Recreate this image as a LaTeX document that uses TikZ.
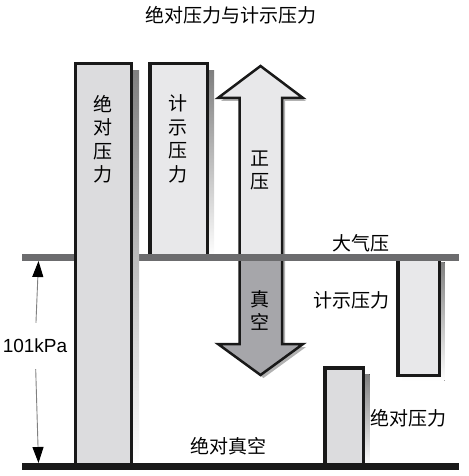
\documentclass[tikz,border=0pt]{standalone}
\usepackage{fontspec}
\setmainfont{Noto Sans CJK SC}
\newfontfamily\helv{Liberation Sans}
\usetikzlibrary{arrows.meta}

\definecolor{barA}{HTML}{DCDCDE}
\definecolor{barB}{HTML}{E8E8EA}
\definecolor{shade}{HTML}{A8A8AA}
\definecolor{atmo}{HTML}{6C6C6E}
\definecolor{vac}{HTML}{A6A6AA}

\begin{document}
\begin{tikzpicture}
  [x=1bp,y=-1bp,
   every node/.style={inner sep=0pt,font=\fontsize{19bp}{23.5bp}\selectfont},
   col/.style={align=center},
   bar/.style={draw=black!90,line width=3.5bp},
   big/.style={draw=black!90,line width=2.5bp,line join=miter},
   dim/.style={draw=black!50,line width=0.9bp,-{Triangle[length=16bp,width=11bp,black]}}]
\useasboundingbox (0,0) rectangle (469,476);

\coordinate (a0) at (22,257.5) ;
\coordinate (a1) at (459,257.5) ;
\coordinate (v0) at (22,466.5) ;
\coordinate (v1) at (459,466.5) ;
\coordinate (atm) at (38.5,261) ;
\coordinate (vac) at (38.5,463) ;

% shadows
\fill[shade] (207.25,71) rectangle (214,257) ;
\fill[shade] (402,262) rectangle (444.5,380.5) ;
\fill[shade] (363,374) rectangle (369.5,466) ;
\fill[black!30] [shift={(3,3)}]
  (260.5,66) -- (303,98) -- (282,98) -- (282,344) -- (303,344) -- (260.5,375)
  -- (218,344) -- (239.5,344) -- (239.5,98) -- (218,98) -- cycle ;

% double arrow
\fill[barB]
  (260.5,66) -- (303,98) -- (282,98) -- (282,344) -- (303,344) -- (260.5,375)
  -- (218,344) -- (239.5,344) -- (239.5,98) -- (218,98) -- cycle ;
\begin{scope}
  \clip (0,257.5) rectangle (469,476) ;
  \fill[vac]
    (260.5,66) -- (303,98) -- (282,98) -- (282,344) -- (303,344) -- (260.5,375)
    -- (218,344) -- (239.5,344) -- (239.5,98) -- (218,98) -- cycle ;
\end{scope}
\draw[big]
  (260.5,66) -- (303,98) -- (282,98) -- (282,344) -- (303,344) -- (260.5,375)
  -- (218,344) -- (239.5,344) -- (239.5,98) -- (218,98) -- cycle ;

% bars
\fill[barB] (149.75,63.75) rectangle (207.25,257) ;
\draw[bar] (149.75,257) -- (149.75,63.75) -- (207.25,63.75) -- (207.25,257) ;
\fill[barB] (397.75,257) rectangle (439.25,375.25) ;
\draw[bar] (397.75,257) |- (439.25,375.25) -- (439.25,257) ;
\filldraw[bar,fill=barA] (324.75,367.75) rectangle (363.25,466) ;

\draw[atmo,line width=6.4bp] (a0) -- (a1) ;

\fill[shade] (131,71) rectangle (139,466) ;
\filldraw[bar,fill=barA] (75.25,63.75) rectangle (131.25,466) ;

\draw[black!90,line width=6.5bp] (v0) -- (v1) ;

% labels
\node (ttl) at (230.5,15.5) {绝对压力与计示压力} ;
\node [col] (abs1) at (103,139) {绝\\对\\压\\力} ;
\node [col] (gau1) at (178,139) {计\\示\\压\\力} ;
\node [col] (pos) at (259.5,170.5) {正\\压} ;
\node [col] (neg) at (259.5,310.5) {真\\空} ;
\node (atmt) at (361,243) {大气压} ;
\node (gau2) at (351.5,300.5) {计示压力} ;
\node (abs2) at (408.5,418.5) {绝对压力} ;
\node (zero) at (228.5,446.5) {绝对真空} ;
\node [font=\helv\fontsize{19bp}{22bp}\selectfont,minimum height=46bp]
  (kpa) at (35,346) {101kPa} ;

\draw[dim] (kpa) -- (atm) ;
\draw[dim] (kpa) -- (vac) ;
\end{tikzpicture}
\end{document}
